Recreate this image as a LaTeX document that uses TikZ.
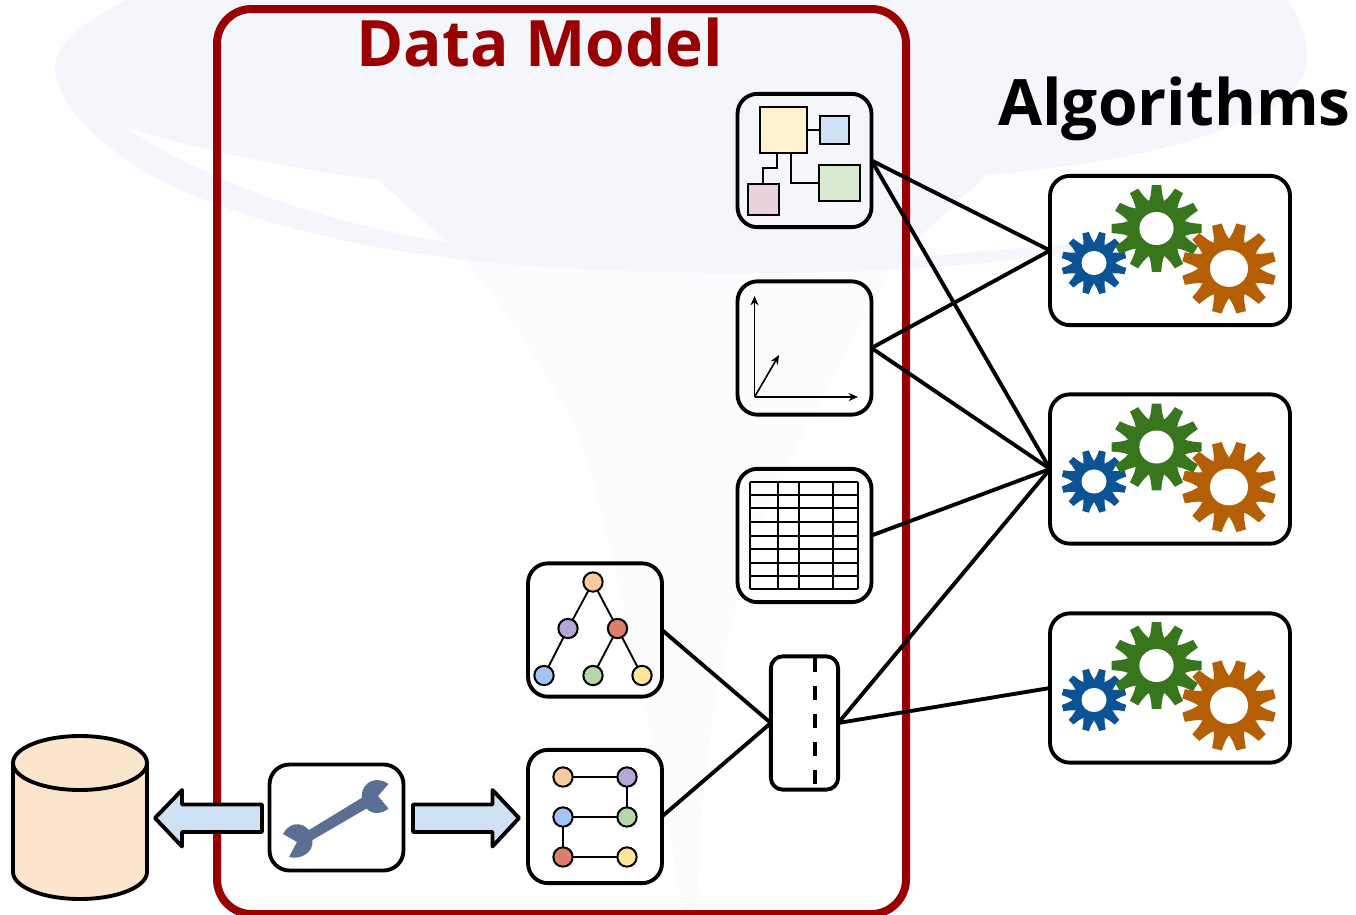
\documentclass[tikz,border=0pt]{standalone}
\usepackage{fontspec}
\setmainfont{Open Sans}
\usetikzlibrary{arrows.meta}
\definecolor{wmA}{HTML}{F5F6FB}
\definecolor{wmB}{HTML}{FCFCFE}
\definecolor{dmred}{HTML}{990000}
\definecolor{cyl}{HTML}{FCE5CD}
\definecolor{arrowfill}{HTML}{CFE2F3}
\definecolor{wrenchc}{HTML}{5B6F95}
\definecolor{gearg}{HTML}{38761D}
\definecolor{gearo}{HTML}{B45F06}
\definecolor{gearb}{HTML}{0B5394}
\definecolor{cYel}{HTML}{FFF2CC}
\definecolor{cBlu}{HTML}{CFE2F3}
\definecolor{cGrn}{HTML}{D9EAD3}
\definecolor{cPnk}{HTML}{EAD1DC}
\definecolor{dOra}{HTML}{F9CB9C}
\definecolor{dPur}{HTML}{B4A7D6}
\definecolor{dRed}{HTML}{DD7E6B}
\definecolor{dBlu}{HTML}{A4C2F4}
\definecolor{dGrn}{HTML}{B6D7A8}
\definecolor{dYel}{HTML}{FFE599}
\tikzset{
  heavy/.style={line width=2.9pt,line join=round},
  iconbox/.style={draw=black,heavy,rounded corners=15pt,inner sep=0pt,outer sep=0pt,minimum width=100.5pt,minimum height=100pt},
  toolbox/.style={iconbox,minimum height=79.5pt},
  roadbox/.style={iconbox,rounded corners=9pt,minimum width=50.5pt},
  gearbox/.style={iconbox,minimum width=180pt,minimum height=112pt},
  frame/.style={draw=dmred,line width=6pt,rounded corners=26pt,inner sep=0pt,outer sep=0pt,minimum width=516.75pt,minimum height=678.75pt},
  link/.style={draw=black,heavy},
  thin line/.style={draw=black,line width=1.4pt},
  dot/.style={circle,draw=black,line width=1.5pt,minimum size=14.5pt,inner sep=0pt,outer sep=0pt},
  title/.style={font=\fontsize{48pt}{48pt}\selectfont\bfseries,anchor=base west,inner sep=0pt},
  bigarrow/.style={draw=black,heavy,fill=arrowfill},
  axis/.style={draw=black,line width=1.2pt,-{Stealth[length=7pt,width=6pt]}},
}
\newcommand{\onegear}[6]{%
  \begin{scope}[shift={(#1,#2)},yscale=.965]
    \begin{scope}[x=#3*.75pt,y=#3*.75pt]
      \foreach \a in {0,30,...,330}{
        \fill[#6,rotate=\a+#5] (.63,-.17) .. controls (.75,-.125) and (.82,-.12) .. (1,-.105) -- (1,.105) .. controls (.82,.12) and (.75,.125) .. (.63,.17) -- cycle;
      }
      \fill[#6] (0,0) circle (.655);
      \fill[white] (0,0) circle (#4);
    \end{scope}
  \end{scope}}
\newcommand{\gearset}[1]{%
  \onegear{1094}{263+#1}{32.5}{.385}{15}{gearb}%
  \onegear{1156.5}{228.5+#1}{45}{.38}{0}{gearg}%
  \onegear{1229}{268.5+#1}{47}{.405}{15}{gearo}}
\begin{document}
\begin{tikzpicture}[x=.75pt,y=-.75pt]
\useasboundingbox (0,0) rectangle (1356,914);
% watermark
\fill[wmB] (465,260) .. controls (500,300) and (560,390) .. (580,440) .. controls (600,490) and (660,760) .. (683,914) -- (697,914) .. controls (700,760) and (720,590) .. (810,420) -- (890,270) -- cycle;
\fill[wmA] (127,0) .. controls (85,20) and (55,45) .. (55,67) .. controls (55,110) and (120,170) .. (213,203) .. controls (300,235) and (380,250) .. (465,260) .. controls (600,275) and (780,275) .. (890,270) .. controls (980,266) and (1100,250) .. (1215,236) .. controls (1100,240) and (1000,250) .. (913,257) -- (913,243) -- (987,175) .. controls (1100,165) and (1180,150) .. (1250,118) .. controls (1290,100) and (1307,80) .. (1307,57) .. controls (1307,35) and (1298,15) .. (1287,0) -- cycle;
\fill[white] (125,127) .. controls (180,145) and (280,168) .. (378,180) -- (447,242) .. controls (340,225) and (220,190) .. (125,127) -- cycle;
% data model frame
\node[frame] (dmframe) at (561.5,461.5) {};
\node[title,text=dmred] (dmtitle) at (356,66) {Data Model};
\node[title,text=black] (algtitle) at (998,125) {Algorithms};
% store
\draw[heavy,fill=cyl] (13,763) -- (13,872) arc[start angle=180,end angle=0,x radius=67,y radius=27] -- (147,763) -- cycle;
\draw[heavy,fill=cyl] (80,763) ellipse[x radius=67,y radius=27];
% big arrows
\draw[bigarrow] (262,804.5) -- (182,804.5) -- (182,790) -- (155,818) -- (182,846.5) -- (182,832) -- (262,832) -- cycle;
\draw[bigarrow] (413,804.5) -- (492.5,804.5) -- (492.5,790) -- (519,818) -- (492.5,846.5) -- (492.5,832) -- (413,832) -- cycle;
% boxes
\node[iconbox] (schema) at (804.5,160.5) {};
\node[iconbox] (vector) at (804.5,348) {};
\node[iconbox] (table) at (804.5,535.5) {};
\node[iconbox] (tree) at (595,630) {};
\node[iconbox] (graph) at (595,816.5) {};
\node[toolbox] (tool) at (336.5,817.5) {};
\node[roadbox,minimum height=100pt] (road) at (804.5,723) {};
\node[gearbox] (alga) at (1170,250.5) {};
\node[gearbox] (algb) at (1170,469) {};
\node[gearbox] (algc) at (1170,688) {};
% gears
\gearset{0}
\gearset{218.5}
\gearset{437}
% wrench
\fill[wrenchc] (361.5,798) -- (309,830) .. controls (300,820) and (288,824) .. (283,834) -- (297,842) -- (289,857) .. controls (300,860) and (314,853) .. (312.5,840) -- (366.5,808.5) .. controls (372,815) and (382,814) .. (388.5,808.5) -- (378,796) -- (388.5,784) .. controls (380,777) and (362,778) .. (361.5,798) -- cycle;
% schema icon
\draw[thin line] (777,153) -- (777,168) -- (763,168) -- (763,184);
\draw[thin line] (791,153) -- (791,183) -- (819,183);
\draw[thin line] (807,130) -- (820,130);
\draw[thin line,fill=cYel] (760,107) rectangle (807,153);
\draw[thin line,fill=cBlu] (820,116) rectangle (849,144);
\draw[thin line,fill=cGrn] (819,165) rectangle (860,201);
\draw[thin line,fill=cPnk] (748,184) rectangle (779,215);
% vector icon
\draw[axis] (754.5,397) -- (754.5,296);
\draw[axis] (754.5,397) -- (858,397);
\draw[axis] (754.5,397) -- (779,355);
% table icon
\foreach \yy in {482,495,508,522,536,549,563,576,589}{\draw[thin line] (750,\yy) -- (858,\yy);}
\foreach \xx in {750,778,799,833,858}{\draw[draw=black,line width=1.2pt] (\xx,482) -- (\xx,589);}
% tree icon
\node[dot,fill=dOra] (ta) at (593,582) {};
\node[dot,fill=dPur] (tb) at (568,628.5) {};
\node[dot,fill=dRed] (tc) at (617.5,628.5) {};
\node[dot,fill=dBlu] (td) at (544,675.5) {};
\node[dot,fill=dGrn] (te) at (593,675.5) {};
\node[dot,fill=dYel] (tf) at (642,675.5) {};
\draw[thin line] (ta) -- (tb);
\draw[thin line] (ta) -- (tc);
\draw[thin line] (tb) -- (td);
\draw[thin line] (tc) -- (te);
\draw[thin line] (tc) -- (tf);
% graph icon
\node[dot,fill=dOra] (ga) at (563,777) {};
\node[dot,fill=dPur] (gb) at (627,777) {};
\node[dot,fill=dBlu] (gc) at (563,817) {};
\node[dot,fill=dGrn] (gd) at (627,817) {};
\node[dot,fill=dRed] (ge) at (563,857) {};
\node[dot,fill=dYel] (gf) at (627,857) {};
\draw[thin line] (ga) -- (gb);
\draw[thin line] (gb) -- (gd);
\draw[thin line] (gc) -- (gd);
\draw[thin line] (gc) -- (ge);
\draw[thin line] (ge) -- (gf);
% road marking
\draw[draw=black,line width=2.6pt,dash pattern=on 10.8pt off 10.2pt] (815,658) -- (815,785);
% connectors
\draw[link] (schema.east) -- (alga.west);
\draw[link] (schema.east) -- (algb.west);
\draw[link] (vector.east) -- (alga.west);
\draw[link] (vector.east) -- (algb.west);
\draw[link] (table.east) -- (algb.west);
\draw[link] (road.east) -- (algb.west);
\draw[link] (road.east) -- (algc.west);
\draw[link] (tree.east) -- (road.west);
\draw[link] (graph.east) -- (road.west);
\end{tikzpicture}
\end{document}
